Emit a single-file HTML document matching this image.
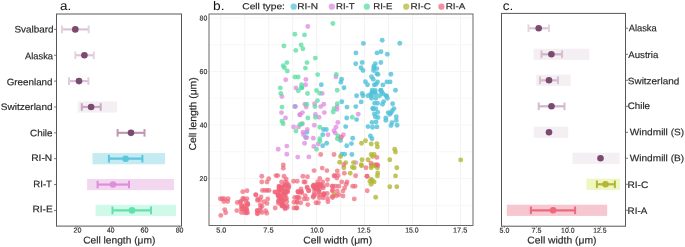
<!DOCTYPE html>
<html><head><meta charset="utf-8"><style>
html,body{margin:0;padding:0;background:#fff;}
body{width:685px;height:247px;overflow:hidden;}
svg{display:block;font-family:"Liberation Sans", sans-serif;font-kerning:none;will-change:transform;}
</style></head><body>
<svg width="685" height="247" viewBox="0 0 685 247">
<rect width="685" height="247" fill="#fff"/>
<text x="59.93" y="9.9" font-size="12.5" textLength="11.20" lengthAdjust="spacingAndGlyphs" fill="#111" stroke="#111" stroke-width="0.0" transform="rotate(0.1,59.93,9.9)">a.</text>
<line x1="62" y1="29.4" x2="88.7" y2="29.4" stroke="#dac3d5" stroke-width="2.2"/>
<line x1="62" y1="25.60" x2="62" y2="33.20" stroke="#e3d2df" stroke-width="2"/>
<line x1="88.7" y1="25.60" x2="88.7" y2="33.20" stroke="#e3d2df" stroke-width="2"/>
<circle cx="75.3" cy="29.4" r="3.3" fill="#7b4a70"/>
<text x="14.45" y="32.4" font-size="9.4" textLength="39.19" lengthAdjust="spacingAndGlyphs" fill="#2a2a2a" stroke="#2a2a2a" stroke-width="0.18" transform="rotate(0.1,14.45,32.4)">Svalbard</text>
<line x1="54" y1="29.4" x2="56.5" y2="29.4" stroke="#585858" stroke-width="0.8"/>
<line x1="75.3" y1="55.26" x2="93.8" y2="55.26" stroke="#dcc6d8" stroke-width="2.2"/>
<line x1="75.3" y1="51.46" x2="75.3" y2="59.06" stroke="#e4d3e0" stroke-width="2"/>
<line x1="93.8" y1="51.46" x2="93.8" y2="59.06" stroke="#e4d3e0" stroke-width="2"/>
<circle cx="84.4" cy="55.26" r="3.3" fill="#7b4a70"/>
<text x="24.98" y="59.3" font-size="9.4" textLength="28.02" lengthAdjust="spacingAndGlyphs" fill="#2a2a2a" stroke="#2a2a2a" stroke-width="0.18" transform="rotate(0.1,24.98,59.3)">Alaska</text>
<line x1="54" y1="55.26" x2="56.5" y2="55.26" stroke="#585858" stroke-width="0.8"/>
<line x1="69" y1="81.12" x2="88.4" y2="81.12" stroke="#d9c1d4" stroke-width="2.2"/>
<line x1="69" y1="77.32" x2="69" y2="84.92" stroke="#e0cddb" stroke-width="2"/>
<line x1="88.4" y1="77.32" x2="88.4" y2="84.92" stroke="#e0cddb" stroke-width="2"/>
<circle cx="79" cy="81.12" r="3.3" fill="#7b4a70"/>
<text x="6.71" y="85.3" font-size="9.4" textLength="45.83" lengthAdjust="spacingAndGlyphs" fill="#2a2a2a" stroke="#2a2a2a" stroke-width="0.18" transform="rotate(0.1,6.71,85.3)">Greenland</text>
<line x1="54" y1="81.12" x2="56.5" y2="81.12" stroke="#585858" stroke-width="0.8"/>
<rect x="77.7" y="101.38" width="39.30" height="11.2" fill="#f4eff3"/>
<line x1="81.8" y1="106.97999999999999" x2="100.7" y2="106.97999999999999" stroke="#c9a9c1" stroke-width="2.2"/>
<line x1="81.8" y1="103.18" x2="81.8" y2="110.78" stroke="#c9a9c1" stroke-width="2"/>
<line x1="100.7" y1="103.18" x2="100.7" y2="110.78" stroke="#c9a9c1" stroke-width="2"/>
<circle cx="91.1" cy="106.97999999999999" r="3.3" fill="#7b4a70"/>
<text x="0.85" y="110.0" font-size="9.4" textLength="51.70" lengthAdjust="spacingAndGlyphs" fill="#2a2a2a" stroke="#2a2a2a" stroke-width="0.18" transform="rotate(0.1,0.85,110.0)">Switzerland</text>
<line x1="54" y1="106.97999999999999" x2="56.5" y2="106.97999999999999" stroke="#585858" stroke-width="0.8"/>
<line x1="117.6" y1="132.84" x2="144.5" y2="132.84" stroke="#bf98b5" stroke-width="2.2"/>
<line x1="117.6" y1="129.04" x2="117.6" y2="136.64" stroke="#bf98b5" stroke-width="2"/>
<line x1="144.5" y1="129.04" x2="144.5" y2="136.64" stroke="#bf98b5" stroke-width="2"/>
<circle cx="131" cy="132.84" r="3.3" fill="#7b4a70"/>
<text x="30.10" y="136.3" font-size="9.4" textLength="22.44" lengthAdjust="spacingAndGlyphs" fill="#2a2a2a" stroke="#2a2a2a" stroke-width="0.18" transform="rotate(0.1,30.10,136.3)">Chile</text>
<line x1="54" y1="132.84" x2="56.5" y2="132.84" stroke="#585858" stroke-width="0.8"/>
<rect x="92.5" y="153.10" width="72.50" height="11.2" fill="#c4eaf2"/>
<line x1="108.9" y1="158.70000000000002" x2="142.4" y2="158.70000000000002" stroke="#5ec5dc" stroke-width="2.2"/>
<line x1="108.9" y1="154.90" x2="108.9" y2="162.50" stroke="#5ec5dc" stroke-width="2"/>
<line x1="142.4" y1="154.90" x2="142.4" y2="162.50" stroke="#5ec5dc" stroke-width="2"/>
<circle cx="125.6" cy="158.70000000000002" r="3.3" fill="#5ec5dc"/>
<text x="31.16" y="161.1" font-size="9.4" textLength="21.08" lengthAdjust="spacingAndGlyphs" fill="#2a2a2a" stroke="#2a2a2a" stroke-width="0.18" transform="rotate(0.1,31.16,161.1)">RI-N</text>
<line x1="54" y1="158.70000000000002" x2="56.5" y2="158.70000000000002" stroke="#585858" stroke-width="0.8"/>
<rect x="87.1" y="178.96" width="86.90" height="11.2" fill="#f3d6ef"/>
<line x1="97.6" y1="184.56" x2="129" y2="184.56" stroke="#e08ddc" stroke-width="2.2"/>
<line x1="97.6" y1="180.76" x2="97.6" y2="188.36" stroke="#e08ddc" stroke-width="2"/>
<line x1="129" y1="180.76" x2="129" y2="188.36" stroke="#e08ddc" stroke-width="2"/>
<circle cx="113" cy="184.56" r="3.3" fill="#e08ddc"/>
<text x="33.21" y="187.3" font-size="9.4" textLength="18.82" lengthAdjust="spacingAndGlyphs" fill="#2a2a2a" stroke="#2a2a2a" stroke-width="0.18" transform="rotate(0.1,33.21,187.3)">RI-T</text>
<line x1="54" y1="184.56" x2="56.5" y2="184.56" stroke="#585858" stroke-width="0.8"/>
<rect x="95.6" y="204.82" width="80.40" height="11.2" fill="#cffaea"/>
<line x1="112.5" y1="210.42" x2="151" y2="210.42" stroke="#64e0aa" stroke-width="2.2"/>
<line x1="112.5" y1="206.62" x2="112.5" y2="214.22" stroke="#64e0aa" stroke-width="2"/>
<line x1="151" y1="206.62" x2="151" y2="214.22" stroke="#64e0aa" stroke-width="2"/>
<circle cx="132" cy="210.42" r="3.3" fill="#64e0aa"/>
<text x="32.47" y="212.3" font-size="9.4" textLength="20.16" lengthAdjust="spacingAndGlyphs" fill="#2a2a2a" stroke="#2a2a2a" stroke-width="0.18" transform="rotate(0.1,32.47,212.3)">RI-E</text>
<line x1="54" y1="210.42" x2="56.5" y2="210.42" stroke="#585858" stroke-width="0.8"/>
<rect x="56.5" y="14" width="125" height="212.1" fill="none" stroke="#585858" stroke-width="1.0"/>
<line x1="77.2" y1="226" x2="77.2" y2="227.6" stroke="#585858" stroke-width="0.8"/>
<text x="73.64" y="232.6" font-size="7" textLength="7.94" lengthAdjust="spacingAndGlyphs" fill="#2a2a2a" stroke="#2a2a2a" stroke-width="0.15" transform="rotate(0.1,73.64,232.6)">20</text>
<line x1="111.2" y1="226" x2="111.2" y2="227.6" stroke="#585858" stroke-width="0.8"/>
<text x="107.05" y="232.6" font-size="7" textLength="7.41" lengthAdjust="spacingAndGlyphs" fill="#2a2a2a" stroke="#2a2a2a" stroke-width="0.15" transform="rotate(0.1,107.05,232.6)">40</text>
<line x1="145.3" y1="226" x2="145.3" y2="227.6" stroke="#585858" stroke-width="0.8"/>
<text x="140.54" y="232.6" font-size="7" textLength="7.94" lengthAdjust="spacingAndGlyphs" fill="#2a2a2a" stroke="#2a2a2a" stroke-width="0.15" transform="rotate(0.1,140.54,232.6)">60</text>
<line x1="179.5" y1="226" x2="179.5" y2="227.6" stroke="#585858" stroke-width="0.8"/>
<text x="175.70" y="232.6" font-size="7" textLength="7.78" lengthAdjust="spacingAndGlyphs" fill="#2a2a2a" stroke="#2a2a2a" stroke-width="0.15" transform="rotate(0.1,175.70,232.6)">80</text>
<text x="83.18" y="243.5" font-size="10.0" textLength="72.15" lengthAdjust="spacingAndGlyphs" fill="#2a2a2a" stroke="#2a2a2a" stroke-width="0.18" transform="rotate(0.1,83.18,243.5)">Cell length (μm)</text>
<text x="213.12" y="9.9" font-size="12.5" textLength="11.44" lengthAdjust="spacingAndGlyphs" fill="#111" stroke="#111" stroke-width="0.0" transform="rotate(0.1,213.12,9.9)">b.</text>
<line x1="220.80" y1="14.0" x2="220.80" y2="225.5" stroke="#f3f3f3" stroke-width="1"/>
<line x1="244.78" y1="14.0" x2="244.78" y2="225.5" stroke="#f3f3f3" stroke-width="1"/>
<line x1="268.75" y1="14.0" x2="268.75" y2="225.5" stroke="#f3f3f3" stroke-width="1"/>
<line x1="292.73" y1="14.0" x2="292.73" y2="225.5" stroke="#f3f3f3" stroke-width="1"/>
<line x1="316.70" y1="14.0" x2="316.70" y2="225.5" stroke="#f3f3f3" stroke-width="1"/>
<line x1="340.68" y1="14.0" x2="340.68" y2="225.5" stroke="#f3f3f3" stroke-width="1"/>
<line x1="364.65" y1="14.0" x2="364.65" y2="225.5" stroke="#f3f3f3" stroke-width="1"/>
<line x1="388.62" y1="14.0" x2="388.62" y2="225.5" stroke="#f3f3f3" stroke-width="1"/>
<line x1="412.60" y1="14.0" x2="412.60" y2="225.5" stroke="#f3f3f3" stroke-width="1"/>
<line x1="436.58" y1="14.0" x2="436.58" y2="225.5" stroke="#f3f3f3" stroke-width="1"/>
<line x1="460.55" y1="14.0" x2="460.55" y2="225.5" stroke="#f3f3f3" stroke-width="1"/>
<line x1="209.0" y1="205.32" x2="473.0" y2="205.32" stroke="#f7f7f7" stroke-width="1"/>
<line x1="209.0" y1="178.56" x2="473.0" y2="178.56" stroke="#f7f7f7" stroke-width="1"/>
<line x1="209.0" y1="151.80" x2="473.0" y2="151.80" stroke="#f7f7f7" stroke-width="1"/>
<line x1="209.0" y1="125.04" x2="473.0" y2="125.04" stroke="#f7f7f7" stroke-width="1"/>
<line x1="209.0" y1="98.28" x2="473.0" y2="98.28" stroke="#f7f7f7" stroke-width="1"/>
<line x1="209.0" y1="71.52" x2="473.0" y2="71.52" stroke="#f7f7f7" stroke-width="1"/>
<line x1="209.0" y1="44.76" x2="473.0" y2="44.76" stroke="#f7f7f7" stroke-width="1"/>
<line x1="209.0" y1="18.00" x2="473.0" y2="18.00" stroke="#f7f7f7" stroke-width="1"/>
<circle cx="363.4" cy="43.4" r="2.45" fill="#50c0da" fill-opacity="0.8"/>
<circle cx="382.2" cy="40.3" r="2.45" fill="#50c0da" fill-opacity="0.8"/>
<circle cx="399.8" cy="43.3" r="2.45" fill="#50c0da" fill-opacity="0.8"/>
<circle cx="355.9" cy="52.9" r="2.45" fill="#50c0da" fill-opacity="0.8"/>
<circle cx="377" cy="52.9" r="2.45" fill="#50c0da" fill-opacity="0.8"/>
<circle cx="381" cy="51.7" r="2.45" fill="#50c0da" fill-opacity="0.8"/>
<circle cx="387.3" cy="54.3" r="2.45" fill="#50c0da" fill-opacity="0.8"/>
<circle cx="355.7" cy="63.7" r="2.45" fill="#50c0da" fill-opacity="0.8"/>
<circle cx="362.2" cy="62.5" r="2.45" fill="#50c0da" fill-opacity="0.8"/>
<circle cx="361" cy="67.7" r="2.45" fill="#50c0da" fill-opacity="0.8"/>
<circle cx="363" cy="70.5" r="2.45" fill="#50c0da" fill-opacity="0.8"/>
<circle cx="375.3" cy="63.7" r="2.45" fill="#50c0da" fill-opacity="0.8"/>
<circle cx="380.8" cy="62.5" r="2.45" fill="#50c0da" fill-opacity="0.8"/>
<circle cx="373.9" cy="66.2" r="2.45" fill="#50c0da" fill-opacity="0.8"/>
<circle cx="373.9" cy="68.1" r="2.45" fill="#50c0da" fill-opacity="0.8"/>
<circle cx="376.8" cy="68.6" r="2.45" fill="#50c0da" fill-opacity="0.8"/>
<circle cx="373.5" cy="70.5" r="2.45" fill="#50c0da" fill-opacity="0.8"/>
<circle cx="376.8" cy="73.8" r="2.45" fill="#50c0da" fill-opacity="0.8"/>
<circle cx="378" cy="74.4" r="2.45" fill="#50c0da" fill-opacity="0.8"/>
<circle cx="390.9" cy="74.2" r="2.45" fill="#50c0da" fill-opacity="0.8"/>
<circle cx="371.5" cy="76.8" r="2.45" fill="#50c0da" fill-opacity="0.8"/>
<circle cx="373.2" cy="79.3" r="2.45" fill="#50c0da" fill-opacity="0.8"/>
<circle cx="365.4" cy="81.7" r="2.45" fill="#50c0da" fill-opacity="0.8"/>
<circle cx="377.5" cy="81.9" r="2.45" fill="#50c0da" fill-opacity="0.8"/>
<circle cx="386.9" cy="81.9" r="2.45" fill="#50c0da" fill-opacity="0.8"/>
<circle cx="390.1" cy="81.9" r="2.45" fill="#50c0da" fill-opacity="0.8"/>
<circle cx="341.6" cy="79.3" r="2.45" fill="#50c0da" fill-opacity="0.8"/>
<circle cx="340.8" cy="82.2" r="2.45" fill="#50c0da" fill-opacity="0.8"/>
<circle cx="344" cy="87.7" r="2.45" fill="#50c0da" fill-opacity="0.8"/>
<circle cx="321.3" cy="84.7" r="2.45" fill="#50c0da" fill-opacity="0.8"/>
<circle cx="367.5" cy="84.7" r="2.45" fill="#50c0da" fill-opacity="0.8"/>
<circle cx="362.2" cy="93.4" r="2.45" fill="#50c0da" fill-opacity="0.8"/>
<circle cx="374.3" cy="84.9" r="2.45" fill="#50c0da" fill-opacity="0.8"/>
<circle cx="376" cy="84.3" r="2.45" fill="#50c0da" fill-opacity="0.8"/>
<circle cx="382.9" cy="84.9" r="2.45" fill="#50c0da" fill-opacity="0.8"/>
<circle cx="395.5" cy="90.3" r="2.45" fill="#50c0da" fill-opacity="0.8"/>
<circle cx="363" cy="95.8" r="2.45" fill="#50c0da" fill-opacity="0.8"/>
<circle cx="372.2" cy="90.3" r="2.45" fill="#50c0da" fill-opacity="0.8"/>
<circle cx="372.2" cy="92.2" r="2.45" fill="#50c0da" fill-opacity="0.8"/>
<circle cx="374.6" cy="92.2" r="2.45" fill="#50c0da" fill-opacity="0.8"/>
<circle cx="370.7" cy="94.3" r="2.45" fill="#50c0da" fill-opacity="0.8"/>
<circle cx="375.6" cy="94" r="2.45" fill="#50c0da" fill-opacity="0.8"/>
<circle cx="367.9" cy="95.8" r="2.45" fill="#50c0da" fill-opacity="0.8"/>
<circle cx="371.5" cy="95.8" r="2.45" fill="#50c0da" fill-opacity="0.8"/>
<circle cx="380.7" cy="90.3" r="2.45" fill="#50c0da" fill-opacity="0.8"/>
<circle cx="381.9" cy="92.2" r="2.45" fill="#50c0da" fill-opacity="0.8"/>
<circle cx="383.1" cy="94" r="2.45" fill="#50c0da" fill-opacity="0.8"/>
<circle cx="379.5" cy="95.8" r="2.45" fill="#50c0da" fill-opacity="0.8"/>
<circle cx="386.1" cy="95.6" r="2.45" fill="#50c0da" fill-opacity="0.8"/>
<circle cx="387.4" cy="98.2" r="2.45" fill="#50c0da" fill-opacity="0.8"/>
<circle cx="375.8" cy="98.2" r="2.45" fill="#50c0da" fill-opacity="0.8"/>
<circle cx="371.5" cy="98.2" r="2.45" fill="#50c0da" fill-opacity="0.8"/>
<circle cx="361.2" cy="101.9" r="2.45" fill="#50c0da" fill-opacity="0.8"/>
<circle cx="374.6" cy="103.3" r="2.45" fill="#50c0da" fill-opacity="0.8"/>
<circle cx="377.6" cy="103.3" r="2.45" fill="#50c0da" fill-opacity="0.8"/>
<circle cx="383.7" cy="101.6" r="2.45" fill="#50c0da" fill-opacity="0.8"/>
<circle cx="382.5" cy="104.3" r="2.45" fill="#50c0da" fill-opacity="0.8"/>
<circle cx="392.6" cy="103.7" r="2.45" fill="#50c0da" fill-opacity="0.8"/>
<circle cx="372.8" cy="108.2" r="2.45" fill="#50c0da" fill-opacity="0.8"/>
<circle cx="375.8" cy="108.6" r="2.45" fill="#50c0da" fill-opacity="0.8"/>
<circle cx="394" cy="108.6" r="2.45" fill="#50c0da" fill-opacity="0.8"/>
<circle cx="356.6" cy="95.8" r="2.45" fill="#50c0da" fill-opacity="0.8"/>
<circle cx="355.8" cy="106.6" r="2.45" fill="#50c0da" fill-opacity="0.8"/>
<circle cx="356.6" cy="119.6" r="2.45" fill="#50c0da" fill-opacity="0.8"/>
<circle cx="375.3" cy="90.4" r="2.45" fill="#50c0da" fill-opacity="0.8"/>
<circle cx="380.9" cy="90.4" r="2.45" fill="#50c0da" fill-opacity="0.8"/>
<circle cx="386.6" cy="96.1" r="2.45" fill="#50c0da" fill-opacity="0.8"/>
<circle cx="373.2" cy="109.1" r="2.45" fill="#50c0da" fill-opacity="0.8"/>
<circle cx="392.3" cy="110.7" r="2.45" fill="#50c0da" fill-opacity="0.8"/>
<circle cx="374.4" cy="113.9" r="2.45" fill="#50c0da" fill-opacity="0.8"/>
<circle cx="377.7" cy="112.3" r="2.45" fill="#50c0da" fill-opacity="0.8"/>
<circle cx="388.2" cy="112.6" r="2.45" fill="#50c0da" fill-opacity="0.8"/>
<circle cx="389.8" cy="114.3" r="2.45" fill="#50c0da" fill-opacity="0.8"/>
<circle cx="375.3" cy="116.8" r="2.45" fill="#50c0da" fill-opacity="0.8"/>
<circle cx="378" cy="117.5" r="2.45" fill="#50c0da" fill-opacity="0.8"/>
<circle cx="385.8" cy="118" r="2.45" fill="#50c0da" fill-opacity="0.8"/>
<circle cx="396.3" cy="116.8" r="2.45" fill="#50c0da" fill-opacity="0.8"/>
<circle cx="376.1" cy="122" r="2.45" fill="#50c0da" fill-opacity="0.8"/>
<circle cx="372" cy="122.4" r="2.45" fill="#50c0da" fill-opacity="0.8"/>
<circle cx="385.8" cy="120.4" r="2.45" fill="#50c0da" fill-opacity="0.8"/>
<circle cx="396.3" cy="120.4" r="2.45" fill="#50c0da" fill-opacity="0.8"/>
<circle cx="392" cy="122.8" r="2.45" fill="#50c0da" fill-opacity="0.8"/>
<circle cx="391" cy="125.6" r="2.45" fill="#50c0da" fill-opacity="0.8"/>
<circle cx="397.1" cy="125.3" r="2.45" fill="#50c0da" fill-opacity="0.8"/>
<circle cx="368" cy="126.6" r="2.45" fill="#50c0da" fill-opacity="0.8"/>
<circle cx="372.5" cy="127.2" r="2.45" fill="#50c0da" fill-opacity="0.8"/>
<circle cx="376.9" cy="126.9" r="2.45" fill="#50c0da" fill-opacity="0.8"/>
<circle cx="391" cy="112.8" r="2.45" fill="#50c0da" fill-opacity="0.8"/>
<circle cx="341.8" cy="101.8" r="2.45" fill="#50c0da" fill-opacity="0.8"/>
<circle cx="347" cy="107.1" r="2.45" fill="#50c0da" fill-opacity="0.8"/>
<circle cx="346.7" cy="118" r="2.45" fill="#50c0da" fill-opacity="0.8"/>
<circle cx="345.7" cy="126.6" r="2.45" fill="#50c0da" fill-opacity="0.8"/>
<circle cx="323.5" cy="129.5" r="2.45" fill="#50c0da" fill-opacity="0.8"/>
<circle cx="326.3" cy="129.5" r="2.45" fill="#50c0da" fill-opacity="0.8"/>
<circle cx="306.8" cy="132.3" r="2.45" fill="#50c0da" fill-opacity="0.8"/>
<circle cx="305.7" cy="137.6" r="2.45" fill="#50c0da" fill-opacity="0.8"/>
<circle cx="322.7" cy="134.7" r="2.45" fill="#50c0da" fill-opacity="0.8"/>
<circle cx="340.5" cy="140.4" r="2.45" fill="#50c0da" fill-opacity="0.8"/>
<circle cx="352.7" cy="138.3" r="2.45" fill="#50c0da" fill-opacity="0.8"/>
<circle cx="351.5" cy="143.6" r="2.45" fill="#50c0da" fill-opacity="0.8"/>
<circle cx="346.7" cy="145.7" r="2.45" fill="#50c0da" fill-opacity="0.8"/>
<circle cx="326.7" cy="143.2" r="2.45" fill="#50c0da" fill-opacity="0.8"/>
<circle cx="322.7" cy="145.7" r="2.45" fill="#50c0da" fill-opacity="0.8"/>
<circle cx="341.8" cy="154.2" r="2.45" fill="#50c0da" fill-opacity="0.8"/>
<circle cx="344.6" cy="154.2" r="2.45" fill="#50c0da" fill-opacity="0.8"/>
<circle cx="351.9" cy="154.5" r="2.45" fill="#50c0da" fill-opacity="0.8"/>
<circle cx="370.4" cy="136" r="2.45" fill="#50c0da" fill-opacity="0.8"/>
<circle cx="372" cy="138.8" r="2.45" fill="#50c0da" fill-opacity="0.8"/>
<circle cx="301.6" cy="87.6" r="2.45" fill="#50c0da" fill-opacity="0.8"/>
<circle cx="294.8" cy="106.5" r="2.45" fill="#50c0da" fill-opacity="0.8"/>
<circle cx="307.8" cy="26.5" r="2.45" fill="#df88df" fill-opacity="0.75"/>
<circle cx="285.7" cy="79.8" r="2.45" fill="#df88df" fill-opacity="0.75"/>
<circle cx="305.9" cy="79.4" r="2.45" fill="#df88df" fill-opacity="0.75"/>
<circle cx="305.6" cy="84.8" r="2.45" fill="#df88df" fill-opacity="0.75"/>
<circle cx="295.9" cy="87.9" r="2.45" fill="#df88df" fill-opacity="0.75"/>
<circle cx="281.9" cy="96.5" r="2.45" fill="#df88df" fill-opacity="0.75"/>
<circle cx="335.9" cy="76.9" r="2.45" fill="#df88df" fill-opacity="0.75"/>
<circle cx="322.2" cy="93.4" r="2.45" fill="#df88df" fill-opacity="0.75"/>
<circle cx="358.2" cy="114.3" r="2.45" fill="#df88df" fill-opacity="0.75"/>
<circle cx="304.9" cy="104.2" r="2.45" fill="#df88df" fill-opacity="0.75"/>
<circle cx="306.2" cy="107.1" r="2.45" fill="#df88df" fill-opacity="0.75"/>
<circle cx="314.6" cy="103.7" r="2.45" fill="#df88df" fill-opacity="0.75"/>
<circle cx="320.7" cy="106.6" r="2.45" fill="#df88df" fill-opacity="0.75"/>
<circle cx="323.8" cy="104.2" r="2.45" fill="#df88df" fill-opacity="0.75"/>
<circle cx="337" cy="106.6" r="2.45" fill="#df88df" fill-opacity="0.75"/>
<circle cx="337" cy="109.4" r="2.45" fill="#df88df" fill-opacity="0.75"/>
<circle cx="302.4" cy="112.6" r="2.45" fill="#df88df" fill-opacity="0.75"/>
<circle cx="300" cy="114.7" r="2.45" fill="#df88df" fill-opacity="0.75"/>
<circle cx="324.3" cy="112.6" r="2.45" fill="#df88df" fill-opacity="0.75"/>
<circle cx="315.4" cy="114.4" r="2.45" fill="#df88df" fill-opacity="0.75"/>
<circle cx="319" cy="117.2" r="2.45" fill="#df88df" fill-opacity="0.75"/>
<circle cx="337.8" cy="122.4" r="2.45" fill="#df88df" fill-opacity="0.75"/>
<circle cx="302.4" cy="123.7" r="2.45" fill="#df88df" fill-opacity="0.75"/>
<circle cx="314.3" cy="125.3" r="2.45" fill="#df88df" fill-opacity="0.75"/>
<circle cx="336" cy="127.2" r="2.45" fill="#df88df" fill-opacity="0.75"/>
<circle cx="281.5" cy="112.6" r="2.45" fill="#df88df" fill-opacity="0.75"/>
<circle cx="285.5" cy="118" r="2.45" fill="#df88df" fill-opacity="0.75"/>
<circle cx="295.6" cy="106.6" r="2.45" fill="#df88df" fill-opacity="0.75"/>
<circle cx="299.8" cy="114.7" r="2.45" fill="#df88df" fill-opacity="0.75"/>
<circle cx="293.6" cy="126.9" r="2.45" fill="#df88df" fill-opacity="0.75"/>
<circle cx="298.5" cy="126.9" r="2.45" fill="#df88df" fill-opacity="0.75"/>
<circle cx="303" cy="132.3" r="2.45" fill="#df88df" fill-opacity="0.75"/>
<circle cx="303.7" cy="134.7" r="2.45" fill="#df88df" fill-opacity="0.75"/>
<circle cx="304.6" cy="143.3" r="2.45" fill="#df88df" fill-opacity="0.75"/>
<circle cx="286.8" cy="146.1" r="2.45" fill="#df88df" fill-opacity="0.75"/>
<circle cx="278.2" cy="149.3" r="2.45" fill="#df88df" fill-opacity="0.75"/>
<circle cx="286.8" cy="154.2" r="2.45" fill="#df88df" fill-opacity="0.75"/>
<circle cx="297.7" cy="157.1" r="2.45" fill="#df88df" fill-opacity="0.75"/>
<circle cx="307.3" cy="129.5" r="2.45" fill="#df88df" fill-opacity="0.75"/>
<circle cx="306.8" cy="137.6" r="2.45" fill="#df88df" fill-opacity="0.75"/>
<circle cx="334" cy="130.7" r="2.45" fill="#df88df" fill-opacity="0.75"/>
<circle cx="335.3" cy="133.1" r="2.45" fill="#df88df" fill-opacity="0.75"/>
<circle cx="328" cy="134.7" r="2.45" fill="#df88df" fill-opacity="0.75"/>
<circle cx="343.4" cy="134.7" r="2.45" fill="#df88df" fill-opacity="0.75"/>
<circle cx="313.3" cy="138.3" r="2.45" fill="#df88df" fill-opacity="0.75"/>
<circle cx="318.2" cy="144.1" r="2.45" fill="#df88df" fill-opacity="0.75"/>
<circle cx="313.8" cy="146.4" r="2.45" fill="#df88df" fill-opacity="0.75"/>
<circle cx="308.9" cy="156.9" r="2.45" fill="#df88df" fill-opacity="0.75"/>
<circle cx="355.9" cy="162.6" r="2.45" fill="#df88df" fill-opacity="0.75"/>
<circle cx="332.9" cy="23.5" r="2.45" fill="#55dea0" fill-opacity="0.75"/>
<circle cx="294.8" cy="34.2" r="2.45" fill="#55dea0" fill-opacity="0.75"/>
<circle cx="304.5" cy="34.9" r="2.45" fill="#55dea0" fill-opacity="0.75"/>
<circle cx="283.9" cy="46" r="2.45" fill="#55dea0" fill-opacity="0.75"/>
<circle cx="301.1" cy="45" r="2.45" fill="#55dea0" fill-opacity="0.75"/>
<circle cx="295.8" cy="50.4" r="2.45" fill="#55dea0" fill-opacity="0.75"/>
<circle cx="302.9" cy="48.8" r="2.45" fill="#55dea0" fill-opacity="0.75"/>
<circle cx="315.3" cy="58.1" r="2.45" fill="#55dea0" fill-opacity="0.75"/>
<circle cx="286.9" cy="62.6" r="2.45" fill="#55dea0" fill-opacity="0.75"/>
<circle cx="307" cy="62.6" r="2.45" fill="#55dea0" fill-opacity="0.75"/>
<circle cx="283.2" cy="65.7" r="2.45" fill="#55dea0" fill-opacity="0.75"/>
<circle cx="284.4" cy="67.8" r="2.45" fill="#55dea0" fill-opacity="0.75"/>
<circle cx="287.3" cy="71" r="2.45" fill="#55dea0" fill-opacity="0.75"/>
<circle cx="305.4" cy="68.1" r="2.45" fill="#55dea0" fill-opacity="0.75"/>
<circle cx="317.7" cy="74.6" r="2.45" fill="#55dea0" fill-opacity="0.75"/>
<circle cx="294.9" cy="77" r="2.45" fill="#55dea0" fill-opacity="0.75"/>
<circle cx="298.1" cy="77" r="2.45" fill="#55dea0" fill-opacity="0.75"/>
<circle cx="301.5" cy="84.8" r="2.45" fill="#55dea0" fill-opacity="0.75"/>
<circle cx="301.9" cy="87.9" r="2.45" fill="#55dea0" fill-opacity="0.75"/>
<circle cx="298.3" cy="90.8" r="2.45" fill="#55dea0" fill-opacity="0.75"/>
<circle cx="280.3" cy="87.9" r="2.45" fill="#55dea0" fill-opacity="0.75"/>
<circle cx="280.8" cy="93.5" r="2.45" fill="#55dea0" fill-opacity="0.75"/>
<circle cx="307.5" cy="93.5" r="2.45" fill="#55dea0" fill-opacity="0.75"/>
<circle cx="316.5" cy="90.5" r="2.45" fill="#55dea0" fill-opacity="0.75"/>
<circle cx="319.8" cy="93.2" r="2.45" fill="#55dea0" fill-opacity="0.75"/>
<circle cx="336.3" cy="74.4" r="2.45" fill="#55dea0" fill-opacity="0.75"/>
<circle cx="337.2" cy="90.2" r="2.45" fill="#55dea0" fill-opacity="0.75"/>
<circle cx="317.5" cy="100.6" r="2.45" fill="#55dea0" fill-opacity="0.75"/>
<circle cx="306.8" cy="104.2" r="2.45" fill="#55dea0" fill-opacity="0.75"/>
<circle cx="314.9" cy="106.6" r="2.45" fill="#55dea0" fill-opacity="0.75"/>
<circle cx="337.3" cy="103.7" r="2.45" fill="#55dea0" fill-opacity="0.75"/>
<circle cx="334" cy="108.7" r="2.45" fill="#55dea0" fill-opacity="0.75"/>
<circle cx="333.2" cy="112" r="2.45" fill="#55dea0" fill-opacity="0.75"/>
<circle cx="315.4" cy="117.2" r="2.45" fill="#55dea0" fill-opacity="0.75"/>
<circle cx="307.8" cy="118" r="2.45" fill="#55dea0" fill-opacity="0.75"/>
<circle cx="352.2" cy="117.2" r="2.45" fill="#55dea0" fill-opacity="0.75"/>
<circle cx="301.6" cy="124" r="2.45" fill="#55dea0" fill-opacity="0.75"/>
<circle cx="319.8" cy="127.2" r="2.45" fill="#55dea0" fill-opacity="0.75"/>
<circle cx="282" cy="107.1" r="2.45" fill="#55dea0" fill-opacity="0.75"/>
<circle cx="282" cy="121.2" r="2.45" fill="#55dea0" fill-opacity="0.75"/>
<circle cx="283.1" cy="123.7" r="2.45" fill="#55dea0" fill-opacity="0.75"/>
<circle cx="300.1" cy="124.5" r="2.45" fill="#55dea0" fill-opacity="0.75"/>
<circle cx="296" cy="131" r="2.45" fill="#55dea0" fill-opacity="0.75"/>
<circle cx="338.1" cy="136" r="2.45" fill="#55dea0" fill-opacity="0.75"/>
<circle cx="337.3" cy="138.8" r="2.45" fill="#55dea0" fill-opacity="0.75"/>
<circle cx="319.8" cy="138.8" r="2.45" fill="#55dea0" fill-opacity="0.75"/>
<circle cx="319.8" cy="141.2" r="2.45" fill="#55dea0" fill-opacity="0.75"/>
<circle cx="316.5" cy="149.3" r="2.45" fill="#55dea0" fill-opacity="0.75"/>
<circle cx="361.5" cy="143.3" r="2.45" fill="#b2b732" fill-opacity="0.8"/>
<circle cx="365.5" cy="140.7" r="2.45" fill="#b2b732" fill-opacity="0.8"/>
<circle cx="371.2" cy="144" r="2.45" fill="#b2b732" fill-opacity="0.8"/>
<circle cx="376.9" cy="143.6" r="2.45" fill="#b2b732" fill-opacity="0.8"/>
<circle cx="377.4" cy="146.9" r="2.45" fill="#b2b732" fill-opacity="0.8"/>
<circle cx="394.7" cy="149.3" r="2.45" fill="#b2b732" fill-opacity="0.8"/>
<circle cx="395.5" cy="152.1" r="2.45" fill="#b2b732" fill-opacity="0.8"/>
<circle cx="371.2" cy="154.5" r="2.45" fill="#b2b732" fill-opacity="0.8"/>
<circle cx="374.1" cy="154.5" r="2.45" fill="#b2b732" fill-opacity="0.8"/>
<circle cx="372.5" cy="156.6" r="2.45" fill="#b2b732" fill-opacity="0.8"/>
<circle cx="362" cy="159.8" r="2.45" fill="#b2b732" fill-opacity="0.8"/>
<circle cx="368" cy="159.8" r="2.45" fill="#b2b732" fill-opacity="0.8"/>
<circle cx="389.8" cy="159.8" r="2.45" fill="#b2b732" fill-opacity="0.8"/>
<circle cx="361.2" cy="164.7" r="2.45" fill="#b2b732" fill-opacity="0.8"/>
<circle cx="374.4" cy="164.7" r="2.45" fill="#b2b732" fill-opacity="0.8"/>
<circle cx="340.5" cy="156.6" r="2.45" fill="#b2b732" fill-opacity="0.8"/>
<circle cx="339.7" cy="162.3" r="2.45" fill="#b2b732" fill-opacity="0.8"/>
<circle cx="345.7" cy="162.6" r="2.45" fill="#b2b732" fill-opacity="0.8"/>
<circle cx="353.5" cy="162.6" r="2.45" fill="#b2b732" fill-opacity="0.8"/>
<circle cx="343.8" cy="167.8" r="2.45" fill="#b2b732" fill-opacity="0.8"/>
<circle cx="352.3" cy="167.3" r="2.45" fill="#b2b732" fill-opacity="0.8"/>
<circle cx="354.3" cy="167.8" r="2.45" fill="#b2b732" fill-opacity="0.8"/>
<circle cx="361.6" cy="165.7" r="2.45" fill="#b2b732" fill-opacity="0.8"/>
<circle cx="350.2" cy="173.3" r="2.45" fill="#b2b732" fill-opacity="0.8"/>
<circle cx="371.2" cy="165.7" r="2.45" fill="#b2b732" fill-opacity="0.8"/>
<circle cx="371.2" cy="167.8" r="2.45" fill="#b2b732" fill-opacity="0.8"/>
<circle cx="374.8" cy="165.7" r="2.45" fill="#b2b732" fill-opacity="0.8"/>
<circle cx="377.4" cy="167.8" r="2.45" fill="#b2b732" fill-opacity="0.8"/>
<circle cx="396.8" cy="167.8" r="2.45" fill="#b2b732" fill-opacity="0.8"/>
<circle cx="377.7" cy="173" r="2.45" fill="#b2b732" fill-opacity="0.8"/>
<circle cx="377.4" cy="175.9" r="2.45" fill="#b2b732" fill-opacity="0.8"/>
<circle cx="395.5" cy="175.9" r="2.45" fill="#b2b732" fill-opacity="0.8"/>
<circle cx="371.2" cy="179.1" r="2.45" fill="#b2b732" fill-opacity="0.8"/>
<circle cx="372.5" cy="180.7" r="2.45" fill="#b2b732" fill-opacity="0.8"/>
<circle cx="369.9" cy="181.4" r="2.45" fill="#b2b732" fill-opacity="0.8"/>
<circle cx="374.1" cy="181.9" r="2.45" fill="#b2b732" fill-opacity="0.8"/>
<circle cx="371.2" cy="184.3" r="2.45" fill="#b2b732" fill-opacity="0.8"/>
<circle cx="389.8" cy="186.7" r="2.45" fill="#b2b732" fill-opacity="0.8"/>
<circle cx="396.8" cy="186.7" r="2.45" fill="#b2b732" fill-opacity="0.8"/>
<circle cx="375.7" cy="197.3" r="2.45" fill="#b2b732" fill-opacity="0.8"/>
<circle cx="334.2" cy="194.5" r="2.45" fill="#b2b732" fill-opacity="0.8"/>
<circle cx="460.7" cy="159.9" r="2.45" fill="#b2b732" fill-opacity="0.8"/>
<circle cx="220.3" cy="198.8" r="2.45" fill="#ef6478" fill-opacity="0.7"/>
<circle cx="222.3" cy="198.8" r="2.45" fill="#ef6478" fill-opacity="0.7"/>
<circle cx="224.4" cy="198.8" r="2.45" fill="#ef6478" fill-opacity="0.7"/>
<circle cx="223.9" cy="201.5" r="2.45" fill="#ef6478" fill-opacity="0.7"/>
<circle cx="228.1" cy="198.8" r="2.45" fill="#ef6478" fill-opacity="0.7"/>
<circle cx="227.6" cy="201.5" r="2.45" fill="#ef6478" fill-opacity="0.7"/>
<circle cx="224.7" cy="209.6" r="2.45" fill="#ef6478" fill-opacity="0.7"/>
<circle cx="225.7" cy="212.8" r="2.45" fill="#ef6478" fill-opacity="0.7"/>
<circle cx="220.8" cy="215.4" r="2.45" fill="#ef6478" fill-opacity="0.7"/>
<circle cx="242.7" cy="191.8" r="2.45" fill="#ef6478" fill-opacity="0.7"/>
<circle cx="247" cy="190.7" r="2.45" fill="#ef6478" fill-opacity="0.7"/>
<circle cx="237.3" cy="202.5" r="2.45" fill="#ef6478" fill-opacity="0.7"/>
<circle cx="241" cy="201.2" r="2.45" fill="#ef6478" fill-opacity="0.7"/>
<circle cx="243.8" cy="198.8" r="2.45" fill="#ef6478" fill-opacity="0.7"/>
<circle cx="247" cy="198.8" r="2.45" fill="#ef6478" fill-opacity="0.7"/>
<circle cx="245.9" cy="201.2" r="2.45" fill="#ef6478" fill-opacity="0.7"/>
<circle cx="247.8" cy="204.1" r="2.45" fill="#ef6478" fill-opacity="0.7"/>
<circle cx="241.4" cy="206" r="2.45" fill="#ef6478" fill-opacity="0.7"/>
<circle cx="244.3" cy="205.7" r="2.45" fill="#ef6478" fill-opacity="0.7"/>
<circle cx="246.2" cy="206.8" r="2.45" fill="#ef6478" fill-opacity="0.7"/>
<circle cx="241.4" cy="209" r="2.45" fill="#ef6478" fill-opacity="0.7"/>
<circle cx="244.3" cy="209.3" r="2.45" fill="#ef6478" fill-opacity="0.7"/>
<circle cx="245.9" cy="210.6" r="2.45" fill="#ef6478" fill-opacity="0.7"/>
<circle cx="236.8" cy="210.6" r="2.45" fill="#ef6478" fill-opacity="0.7"/>
<circle cx="241.4" cy="212.5" r="2.45" fill="#ef6478" fill-opacity="0.7"/>
<circle cx="244.6" cy="212.8" r="2.45" fill="#ef6478" fill-opacity="0.7"/>
<circle cx="255.9" cy="195" r="2.45" fill="#ef6478" fill-opacity="0.7"/>
<circle cx="257.5" cy="200.4" r="2.45" fill="#ef6478" fill-opacity="0.7"/>
<circle cx="257.5" cy="210.9" r="2.45" fill="#ef6478" fill-opacity="0.7"/>
<circle cx="257.2" cy="213.8" r="2.45" fill="#ef6478" fill-opacity="0.7"/>
<circle cx="262.4" cy="190.4" r="2.45" fill="#ef6478" fill-opacity="0.7"/>
<circle cx="264.9" cy="190.4" r="2.45" fill="#ef6478" fill-opacity="0.7"/>
<circle cx="267" cy="190.4" r="2.45" fill="#ef6478" fill-opacity="0.7"/>
<circle cx="269.1" cy="190.4" r="2.45" fill="#ef6478" fill-opacity="0.7"/>
<circle cx="255.7" cy="194.6" r="2.45" fill="#ef6478" fill-opacity="0.7"/>
<circle cx="261" cy="197" r="2.45" fill="#ef6478" fill-opacity="0.7"/>
<circle cx="257.8" cy="199.1" r="2.45" fill="#ef6478" fill-opacity="0.7"/>
<circle cx="259.9" cy="199.9" r="2.45" fill="#ef6478" fill-opacity="0.7"/>
<circle cx="267.7" cy="198.9" r="2.45" fill="#ef6478" fill-opacity="0.7"/>
<circle cx="264.1" cy="201.7" r="2.45" fill="#ef6478" fill-opacity="0.7"/>
<circle cx="267" cy="203.4" r="2.45" fill="#ef6478" fill-opacity="0.7"/>
<circle cx="260.2" cy="204.8" r="2.45" fill="#ef6478" fill-opacity="0.7"/>
<circle cx="262" cy="206.2" r="2.45" fill="#ef6478" fill-opacity="0.7"/>
<circle cx="260.6" cy="207.9" r="2.45" fill="#ef6478" fill-opacity="0.7"/>
<circle cx="257.1" cy="210.5" r="2.45" fill="#ef6478" fill-opacity="0.7"/>
<circle cx="260.2" cy="210.5" r="2.45" fill="#ef6478" fill-opacity="0.7"/>
<circle cx="257.8" cy="213.3" r="2.45" fill="#ef6478" fill-opacity="0.7"/>
<circle cx="262" cy="212.6" r="2.45" fill="#ef6478" fill-opacity="0.7"/>
<circle cx="265.6" cy="210.7" r="2.45" fill="#ef6478" fill-opacity="0.7"/>
<circle cx="266.7" cy="213.3" r="2.45" fill="#ef6478" fill-opacity="0.7"/>
<circle cx="275.5" cy="192.1" r="2.45" fill="#ef6478" fill-opacity="0.7"/>
<circle cx="261.8" cy="176.3" r="2.45" fill="#ef6478" fill-opacity="0.7"/>
<circle cx="268.7" cy="178.8" r="2.45" fill="#ef6478" fill-opacity="0.7"/>
<circle cx="267" cy="182" r="2.45" fill="#ef6478" fill-opacity="0.7"/>
<circle cx="261.8" cy="182" r="2.45" fill="#ef6478" fill-opacity="0.7"/>
<circle cx="283.3" cy="165" r="2.45" fill="#ef6478" fill-opacity="0.7"/>
<circle cx="283.3" cy="168.2" r="2.45" fill="#ef6478" fill-opacity="0.7"/>
<circle cx="276" cy="175.6" r="2.45" fill="#ef6478" fill-opacity="0.7"/>
<circle cx="277.7" cy="175.6" r="2.45" fill="#ef6478" fill-opacity="0.7"/>
<circle cx="284" cy="176.3" r="2.45" fill="#ef6478" fill-opacity="0.7"/>
<circle cx="286.2" cy="179.1" r="2.45" fill="#ef6478" fill-opacity="0.7"/>
<circle cx="281.6" cy="182" r="2.45" fill="#ef6478" fill-opacity="0.7"/>
<circle cx="285.5" cy="182" r="2.45" fill="#ef6478" fill-opacity="0.7"/>
<circle cx="287.3" cy="183.4" r="2.45" fill="#ef6478" fill-opacity="0.7"/>
<circle cx="293.5" cy="181.2" r="2.45" fill="#ef6478" fill-opacity="0.7"/>
<circle cx="297.2" cy="181.2" r="2.45" fill="#ef6478" fill-opacity="0.7"/>
<circle cx="302.9" cy="176.3" r="2.45" fill="#ef6478" fill-opacity="0.7"/>
<circle cx="303.9" cy="182" r="2.45" fill="#ef6478" fill-opacity="0.7"/>
<circle cx="284.7" cy="185.2" r="2.45" fill="#ef6478" fill-opacity="0.7"/>
<circle cx="286.9" cy="186.2" r="2.45" fill="#ef6478" fill-opacity="0.7"/>
<circle cx="280.2" cy="186.9" r="2.45" fill="#ef6478" fill-opacity="0.7"/>
<circle cx="281.9" cy="188.3" r="2.45" fill="#ef6478" fill-opacity="0.7"/>
<circle cx="274.8" cy="191.9" r="2.45" fill="#ef6478" fill-opacity="0.7"/>
<circle cx="279.8" cy="190.5" r="2.45" fill="#ef6478" fill-opacity="0.7"/>
<circle cx="285" cy="190.5" r="2.45" fill="#ef6478" fill-opacity="0.7"/>
<circle cx="301" cy="189" r="2.45" fill="#ef6478" fill-opacity="0.7"/>
<circle cx="298.2" cy="191.9" r="2.45" fill="#ef6478" fill-opacity="0.7"/>
<circle cx="301.7" cy="191.9" r="2.45" fill="#ef6478" fill-opacity="0.7"/>
<circle cx="298.5" cy="192.2" r="2.45" fill="#ef6478" fill-opacity="0.7"/>
<circle cx="294.7" cy="197.5" r="2.45" fill="#ef6478" fill-opacity="0.7"/>
<circle cx="297.7" cy="197.5" r="2.45" fill="#ef6478" fill-opacity="0.7"/>
<circle cx="294" cy="202.3" r="2.45" fill="#ef6478" fill-opacity="0.7"/>
<circle cx="297" cy="202.3" r="2.45" fill="#ef6478" fill-opacity="0.7"/>
<circle cx="294" cy="208" r="2.45" fill="#ef6478" fill-opacity="0.7"/>
<circle cx="297" cy="208" r="2.45" fill="#ef6478" fill-opacity="0.7"/>
<circle cx="275.2" cy="208" r="2.45" fill="#ef6478" fill-opacity="0.7"/>
<circle cx="314.1" cy="170.6" r="2.45" fill="#ef6478" fill-opacity="0.7"/>
<circle cx="322.2" cy="168.1" r="2.45" fill="#ef6478" fill-opacity="0.7"/>
<circle cx="326.9" cy="170.6" r="2.45" fill="#ef6478" fill-opacity="0.7"/>
<circle cx="307.5" cy="176.7" r="2.45" fill="#ef6478" fill-opacity="0.7"/>
<circle cx="305.2" cy="182" r="2.45" fill="#ef6478" fill-opacity="0.7"/>
<circle cx="319.8" cy="178.4" r="2.45" fill="#ef6478" fill-opacity="0.7"/>
<circle cx="317.7" cy="182" r="2.45" fill="#ef6478" fill-opacity="0.7"/>
<circle cx="322.7" cy="182" r="2.45" fill="#ef6478" fill-opacity="0.7"/>
<circle cx="327.6" cy="179.6" r="2.45" fill="#ef6478" fill-opacity="0.7"/>
<circle cx="334" cy="175.9" r="2.45" fill="#ef6478" fill-opacity="0.7"/>
<circle cx="327.3" cy="184.8" r="2.45" fill="#ef6478" fill-opacity="0.7"/>
<circle cx="313.4" cy="186.7" r="2.45" fill="#ef6478" fill-opacity="0.7"/>
<circle cx="318.8" cy="184.8" r="2.45" fill="#ef6478" fill-opacity="0.7"/>
<circle cx="316" cy="188.4" r="2.45" fill="#ef6478" fill-opacity="0.7"/>
<circle cx="319.8" cy="189.1" r="2.45" fill="#ef6478" fill-opacity="0.7"/>
<circle cx="323.4" cy="187.7" r="2.45" fill="#ef6478" fill-opacity="0.7"/>
<circle cx="307.1" cy="187.7" r="2.45" fill="#ef6478" fill-opacity="0.7"/>
<circle cx="308.9" cy="190.5" r="2.45" fill="#ef6478" fill-opacity="0.7"/>
<circle cx="300.7" cy="191.5" r="2.45" fill="#ef6478" fill-opacity="0.7"/>
<circle cx="332.6" cy="186.2" r="2.45" fill="#ef6478" fill-opacity="0.7"/>
<circle cx="297.8" cy="191.4" r="2.45" fill="#ef6478" fill-opacity="0.7"/>
<circle cx="301.4" cy="192.8" r="2.45" fill="#ef6478" fill-opacity="0.7"/>
<circle cx="307.1" cy="187.1" r="2.45" fill="#ef6478" fill-opacity="0.7"/>
<circle cx="308.5" cy="190.7" r="2.45" fill="#ef6478" fill-opacity="0.7"/>
<circle cx="297.1" cy="197.8" r="2.45" fill="#ef6478" fill-opacity="0.7"/>
<circle cx="299.3" cy="197.8" r="2.45" fill="#ef6478" fill-opacity="0.7"/>
<circle cx="305.2" cy="195.6" r="2.45" fill="#ef6478" fill-opacity="0.7"/>
<circle cx="304.2" cy="198.9" r="2.45" fill="#ef6478" fill-opacity="0.7"/>
<circle cx="307.1" cy="198.9" r="2.45" fill="#ef6478" fill-opacity="0.7"/>
<circle cx="297.1" cy="202.3" r="2.45" fill="#ef6478" fill-opacity="0.7"/>
<circle cx="300.7" cy="202.7" r="2.45" fill="#ef6478" fill-opacity="0.7"/>
<circle cx="307.8" cy="204.6" r="2.45" fill="#ef6478" fill-opacity="0.7"/>
<circle cx="296.4" cy="208" r="2.45" fill="#ef6478" fill-opacity="0.7"/>
<circle cx="316" cy="202.7" r="2.45" fill="#ef6478" fill-opacity="0.7"/>
<circle cx="318.4" cy="202.7" r="2.45" fill="#ef6478" fill-opacity="0.7"/>
<circle cx="327.3" cy="193.5" r="2.45" fill="#ef6478" fill-opacity="0.7"/>
<circle cx="327.6" cy="198.5" r="2.45" fill="#ef6478" fill-opacity="0.7"/>
<circle cx="327.9" cy="201.7" r="2.45" fill="#ef6478" fill-opacity="0.7"/>
<circle cx="332.6" cy="190" r="2.45" fill="#ef6478" fill-opacity="0.7"/>
<circle cx="332.6" cy="197.5" r="2.45" fill="#ef6478" fill-opacity="0.7"/>
<circle cx="337.3" cy="171" r="2.45" fill="#ef6478" fill-opacity="0.7"/>
<circle cx="344.3" cy="173.3" r="2.45" fill="#ef6478" fill-opacity="0.7"/>
<circle cx="355.6" cy="175.7" r="2.45" fill="#ef6478" fill-opacity="0.7"/>
<circle cx="366.9" cy="176.2" r="2.45" fill="#ef6478" fill-opacity="0.7"/>
<circle cx="334.9" cy="175.4" r="2.45" fill="#ef6478" fill-opacity="0.7"/>
<circle cx="338.1" cy="175.4" r="2.45" fill="#ef6478" fill-opacity="0.7"/>
<circle cx="336.8" cy="178.1" r="2.45" fill="#ef6478" fill-opacity="0.7"/>
<circle cx="341.7" cy="181.9" r="2.45" fill="#ef6478" fill-opacity="0.7"/>
<circle cx="347" cy="181.9" r="2.45" fill="#ef6478" fill-opacity="0.7"/>
<circle cx="346.2" cy="184.3" r="2.45" fill="#ef6478" fill-opacity="0.7"/>
<circle cx="352.7" cy="186.2" r="2.45" fill="#ef6478" fill-opacity="0.7"/>
<circle cx="355.1" cy="186.2" r="2.45" fill="#ef6478" fill-opacity="0.7"/>
<circle cx="332.4" cy="186.2" r="2.45" fill="#ef6478" fill-opacity="0.7"/>
<circle cx="335.7" cy="186.2" r="2.45" fill="#ef6478" fill-opacity="0.7"/>
<circle cx="338.9" cy="186.2" r="2.45" fill="#ef6478" fill-opacity="0.7"/>
<circle cx="344.6" cy="187.9" r="2.45" fill="#ef6478" fill-opacity="0.7"/>
<circle cx="343" cy="191.1" r="2.45" fill="#ef6478" fill-opacity="0.7"/>
<circle cx="332.4" cy="191.1" r="2.45" fill="#ef6478" fill-opacity="0.7"/>
<circle cx="337.3" cy="191.1" r="2.45" fill="#ef6478" fill-opacity="0.7"/>
<circle cx="338.9" cy="194.8" r="2.45" fill="#ef6478" fill-opacity="0.7"/>
<circle cx="343" cy="196" r="2.45" fill="#ef6478" fill-opacity="0.7"/>
<circle cx="354.3" cy="198.9" r="2.45" fill="#ef6478" fill-opacity="0.7"/>
<circle cx="332.4" cy="196.4" r="2.45" fill="#ef6478" fill-opacity="0.7"/>
<circle cx="367.2" cy="190.8" r="2.45" fill="#ef6478" fill-opacity="0.7"/>
<circle cx="336.3" cy="195.7" r="2.45" fill="#ef6478" fill-opacity="0.7"/>
<circle cx="320.7" cy="154.5" r="2.45" fill="#ef6478" fill-opacity="0.7"/>
<circle cx="334" cy="154.5" r="2.45" fill="#ef6478" fill-opacity="0.7"/>
<circle cx="341.3" cy="137.2" r="2.45" fill="#ef6478" fill-opacity="0.7"/>
<circle cx="343.8" cy="164.7" r="2.45" fill="#ef6478" fill-opacity="0.7"/>
<circle cx="376.9" cy="157.4" r="2.45" fill="#ef6478" fill-opacity="0.7"/>
<circle cx="370.9" cy="163.1" r="2.45" fill="#ef6478" fill-opacity="0.7"/>
<circle cx="376.9" cy="164.7" r="2.45" fill="#ef6478" fill-opacity="0.7"/>
<circle cx="377.7" cy="165.2" r="2.45" fill="#ef6478" fill-opacity="0.7"/>
<circle cx="366" cy="167.8" r="2.45" fill="#ef6478" fill-opacity="0.7"/>
<circle cx="367.2" cy="176.2" r="2.45" fill="#ef6478" fill-opacity="0.7"/>
<circle cx="281.6" cy="187.8" r="2.45" fill="#ef6478" fill-opacity="0.7"/>
<circle cx="285.2" cy="185.8" r="2.45" fill="#ef6478" fill-opacity="0.7"/>
<circle cx="283.9" cy="193.1" r="2.45" fill="#ef6478" fill-opacity="0.7"/>
<circle cx="278.6" cy="196.7" r="2.45" fill="#ef6478" fill-opacity="0.7"/>
<circle cx="278.4" cy="194.8" r="2.45" fill="#ef6478" fill-opacity="0.7"/>
<circle cx="278.8" cy="186.3" r="2.45" fill="#ef6478" fill-opacity="0.7"/>
<circle cx="282.7" cy="204.7" r="2.45" fill="#ef6478" fill-opacity="0.7"/>
<circle cx="279.4" cy="189.6" r="2.45" fill="#ef6478" fill-opacity="0.7"/>
<circle cx="284.9" cy="207.7" r="2.45" fill="#ef6478" fill-opacity="0.7"/>
<circle cx="284.3" cy="193.9" r="2.45" fill="#ef6478" fill-opacity="0.7"/>
<circle cx="288.7" cy="185.2" r="2.45" fill="#ef6478" fill-opacity="0.7"/>
<circle cx="287.4" cy="191.2" r="2.45" fill="#ef6478" fill-opacity="0.7"/>
<circle cx="279.6" cy="186.9" r="2.45" fill="#ef6478" fill-opacity="0.7"/>
<circle cx="281.4" cy="204.4" r="2.45" fill="#ef6478" fill-opacity="0.7"/>
<circle cx="280.0" cy="198.5" r="2.45" fill="#ef6478" fill-opacity="0.7"/>
<circle cx="285.0" cy="193.3" r="2.45" fill="#ef6478" fill-opacity="0.7"/>
<circle cx="284.0" cy="185.6" r="2.45" fill="#ef6478" fill-opacity="0.7"/>
<circle cx="278.7" cy="189.1" r="2.45" fill="#ef6478" fill-opacity="0.7"/>
<circle cx="285.5" cy="194.7" r="2.45" fill="#ef6478" fill-opacity="0.7"/>
<circle cx="281.5" cy="198.6" r="2.45" fill="#ef6478" fill-opacity="0.7"/>
<circle cx="283.0" cy="191.5" r="2.45" fill="#ef6478" fill-opacity="0.7"/>
<circle cx="286.7" cy="201.5" r="2.45" fill="#ef6478" fill-opacity="0.7"/>
<circle cx="280.7" cy="198.4" r="2.45" fill="#ef6478" fill-opacity="0.7"/>
<circle cx="283.8" cy="205.9" r="2.45" fill="#ef6478" fill-opacity="0.7"/>
<circle cx="286.0" cy="191.2" r="2.45" fill="#ef6478" fill-opacity="0.7"/>
<circle cx="288.8" cy="187.0" r="2.45" fill="#ef6478" fill-opacity="0.7"/>
<circle cx="282.6" cy="202.9" r="2.45" fill="#ef6478" fill-opacity="0.7"/>
<circle cx="279.7" cy="196.2" r="2.45" fill="#ef6478" fill-opacity="0.7"/>
<circle cx="278.4" cy="200.7" r="2.45" fill="#ef6478" fill-opacity="0.7"/>
<circle cx="286.4" cy="198.3" r="2.45" fill="#ef6478" fill-opacity="0.7"/>
<circle cx="287.6" cy="191.8" r="2.45" fill="#ef6478" fill-opacity="0.7"/>
<circle cx="285.6" cy="198.9" r="2.45" fill="#ef6478" fill-opacity="0.7"/>
<circle cx="284.4" cy="195.4" r="2.45" fill="#ef6478" fill-opacity="0.7"/>
<circle cx="287.2" cy="207.6" r="2.45" fill="#ef6478" fill-opacity="0.7"/>
<circle cx="283.2" cy="200.6" r="2.45" fill="#ef6478" fill-opacity="0.7"/>
<circle cx="278.7" cy="201.5" r="2.45" fill="#ef6478" fill-opacity="0.7"/>
<circle cx="285.1" cy="208.8" r="2.45" fill="#ef6478" fill-opacity="0.7"/>
<circle cx="287.0" cy="191.1" r="2.45" fill="#ef6478" fill-opacity="0.7"/>
<circle cx="282.2" cy="200.7" r="2.45" fill="#ef6478" fill-opacity="0.7"/>
<circle cx="278.2" cy="195.5" r="2.45" fill="#ef6478" fill-opacity="0.7"/>
<circle cx="279.8" cy="186.9" r="2.45" fill="#ef6478" fill-opacity="0.7"/>
<circle cx="278.6" cy="203.2" r="2.45" fill="#ef6478" fill-opacity="0.7"/>
<circle cx="279.4" cy="190.2" r="2.45" fill="#ef6478" fill-opacity="0.7"/>
<circle cx="282.3" cy="205.8" r="2.45" fill="#ef6478" fill-opacity="0.7"/>
<circle cx="278.9" cy="195.2" r="2.45" fill="#ef6478" fill-opacity="0.7"/>
<circle cx="284.0" cy="206.1" r="2.45" fill="#ef6478" fill-opacity="0.7"/>
<circle cx="287.0" cy="205.6" r="2.45" fill="#ef6478" fill-opacity="0.7"/>
<circle cx="281.1" cy="194.4" r="2.45" fill="#ef6478" fill-opacity="0.7"/>
<circle cx="281.9" cy="206.1" r="2.45" fill="#ef6478" fill-opacity="0.7"/>
<circle cx="288.5" cy="187.8" r="2.45" fill="#ef6478" fill-opacity="0.7"/>
<circle cx="279.9" cy="189.8" r="2.45" fill="#ef6478" fill-opacity="0.7"/>
<circle cx="280.6" cy="196.1" r="2.45" fill="#ef6478" fill-opacity="0.7"/>
<circle cx="284.5" cy="190.6" r="2.45" fill="#ef6478" fill-opacity="0.7"/>
<circle cx="278.0" cy="194.5" r="2.45" fill="#ef6478" fill-opacity="0.7"/>
<circle cx="282.1" cy="198.2" r="2.45" fill="#ef6478" fill-opacity="0.7"/>
<circle cx="324.4" cy="193.7" r="2.45" fill="#ef6478" fill-opacity="0.7"/>
<circle cx="319.2" cy="192.6" r="2.45" fill="#ef6478" fill-opacity="0.7"/>
<circle cx="321.1" cy="184.8" r="2.45" fill="#ef6478" fill-opacity="0.7"/>
<circle cx="323.8" cy="194.9" r="2.45" fill="#ef6478" fill-opacity="0.7"/>
<circle cx="323.5" cy="195.2" r="2.45" fill="#ef6478" fill-opacity="0.7"/>
<circle cx="317.7" cy="189.6" r="2.45" fill="#ef6478" fill-opacity="0.7"/>
<circle cx="314.2" cy="192.9" r="2.45" fill="#ef6478" fill-opacity="0.7"/>
<circle cx="313.7" cy="184.9" r="2.45" fill="#ef6478" fill-opacity="0.7"/>
<circle cx="315.5" cy="186.3" r="2.45" fill="#ef6478" fill-opacity="0.7"/>
<circle cx="317.1" cy="184.7" r="2.45" fill="#ef6478" fill-opacity="0.7"/>
<circle cx="313.0" cy="186.1" r="2.45" fill="#ef6478" fill-opacity="0.7"/>
<circle cx="314.2" cy="189.1" r="2.45" fill="#ef6478" fill-opacity="0.7"/>
<circle cx="313.3" cy="196.2" r="2.45" fill="#ef6478" fill-opacity="0.7"/>
<circle cx="320.4" cy="186.1" r="2.45" fill="#ef6478" fill-opacity="0.7"/>
<circle cx="316.0" cy="188.9" r="2.45" fill="#ef6478" fill-opacity="0.7"/>
<circle cx="317.4" cy="185.7" r="2.45" fill="#ef6478" fill-opacity="0.7"/>
<circle cx="323.2" cy="197.9" r="2.45" fill="#ef6478" fill-opacity="0.7"/>
<circle cx="318.6" cy="190.8" r="2.45" fill="#ef6478" fill-opacity="0.7"/>
<circle cx="314.0" cy="185.4" r="2.45" fill="#ef6478" fill-opacity="0.7"/>
<circle cx="317.1" cy="187.7" r="2.45" fill="#ef6478" fill-opacity="0.7"/>
<circle cx="322.9" cy="186.3" r="2.45" fill="#ef6478" fill-opacity="0.7"/>
<circle cx="313.3" cy="197.3" r="2.45" fill="#ef6478" fill-opacity="0.7"/>
<circle cx="319.3" cy="186.1" r="2.45" fill="#ef6478" fill-opacity="0.7"/>
<circle cx="319.5" cy="184.4" r="2.45" fill="#ef6478" fill-opacity="0.7"/>
<circle cx="319.3" cy="197.7" r="2.45" fill="#ef6478" fill-opacity="0.7"/>
<circle cx="323.4" cy="193.7" r="2.45" fill="#ef6478" fill-opacity="0.7"/>
<circle cx="316.1" cy="189.1" r="2.45" fill="#ef6478" fill-opacity="0.7"/>
<circle cx="315.0" cy="194.8" r="2.45" fill="#ef6478" fill-opacity="0.7"/>
<circle cx="319.4" cy="194.9" r="2.45" fill="#ef6478" fill-opacity="0.7"/>
<circle cx="317.0" cy="187.1" r="2.45" fill="#ef6478" fill-opacity="0.7"/>
<circle cx="246.5" cy="212.8" r="2.45" fill="#ef6478" fill-opacity="0.7"/>
<circle cx="246.8" cy="210.1" r="2.45" fill="#ef6478" fill-opacity="0.7"/>
<circle cx="246.5" cy="209.1" r="2.45" fill="#ef6478" fill-opacity="0.7"/>
<circle cx="241.8" cy="205.8" r="2.45" fill="#ef6478" fill-opacity="0.7"/>
<circle cx="242.8" cy="198.4" r="2.45" fill="#ef6478" fill-opacity="0.7"/>
<circle cx="240.2" cy="202.2" r="2.45" fill="#ef6478" fill-opacity="0.7"/>
<circle cx="242.1" cy="208.4" r="2.45" fill="#ef6478" fill-opacity="0.7"/>
<circle cx="247.7" cy="204.7" r="2.45" fill="#ef6478" fill-opacity="0.7"/>
<circle cx="247.5" cy="212.8" r="2.45" fill="#ef6478" fill-opacity="0.7"/>
<circle cx="247.6" cy="203.5" r="2.45" fill="#ef6478" fill-opacity="0.7"/>
<rect x="209.0" y="14.0" width="264.00" height="211.50" fill="none" stroke="#585858" stroke-width="0.9"/>
<text x="216.31" y="232.6" font-size="7" textLength="10.07" lengthAdjust="spacingAndGlyphs" fill="#2a2a2a" stroke="#2a2a2a" stroke-width="0.15" transform="rotate(0.1,216.31,232.6)">5.0</text>
<text x="263.22" y="232.6" font-size="7" textLength="10.29" lengthAdjust="spacingAndGlyphs" fill="#2a2a2a" stroke="#2a2a2a" stroke-width="0.15" transform="rotate(0.1,263.22,232.6)">7.5</text>
<text x="310.18" y="232.6" font-size="7" textLength="13.39" lengthAdjust="spacingAndGlyphs" fill="#2a2a2a" stroke="#2a2a2a" stroke-width="0.15" transform="rotate(0.1,310.18,232.6)">10.0</text>
<text x="357.18" y="232.6" font-size="7" textLength="13.31" lengthAdjust="spacingAndGlyphs" fill="#2a2a2a" stroke="#2a2a2a" stroke-width="0.15" transform="rotate(0.1,357.18,232.6)">12.5</text>
<text x="405.18" y="232.6" font-size="7" textLength="13.39" lengthAdjust="spacingAndGlyphs" fill="#2a2a2a" stroke="#2a2a2a" stroke-width="0.15" transform="rotate(0.1,405.18,232.6)">15.0</text>
<text x="453.04" y="232.6" font-size="7" textLength="14.27" lengthAdjust="spacingAndGlyphs" fill="#2a2a2a" stroke="#2a2a2a" stroke-width="0.15" transform="rotate(0.1,453.04,232.6)">17.5</text>
<text x="199.55" y="181.01" font-size="7" textLength="7.72" lengthAdjust="spacingAndGlyphs" fill="#2a2a2a" stroke="#2a2a2a" stroke-width="0.15" transform="rotate(0.1,199.55,181.01)">20</text>
<text x="199.74" y="127.49" font-size="7" textLength="7.52" lengthAdjust="spacingAndGlyphs" fill="#2a2a2a" stroke="#2a2a2a" stroke-width="0.15" transform="rotate(0.1,199.74,127.49)">40</text>
<text x="199.55" y="73.97" font-size="7" textLength="7.72" lengthAdjust="spacingAndGlyphs" fill="#2a2a2a" stroke="#2a2a2a" stroke-width="0.15" transform="rotate(0.1,199.55,73.97)">60</text>
<text x="199.60" y="20.45" font-size="7" textLength="7.67" lengthAdjust="spacingAndGlyphs" fill="#2a2a2a" stroke="#2a2a2a" stroke-width="0.15" transform="rotate(0.1,199.60,20.45)">80</text>
<text x="303.28" y="243.5" font-size="10.0" textLength="68.86" lengthAdjust="spacingAndGlyphs" fill="#2a2a2a" stroke="#2a2a2a" stroke-width="0.18" transform="rotate(0.1,303.28,243.5)">Cell width (μm)</text>
<text x="-0.52" y="0" font-size="10.0" textLength="73.17" lengthAdjust="spacingAndGlyphs" fill="#2a2a2a" stroke="#2a2a2a" stroke-width="0.18" transform="translate(196.1,150) rotate(-89.9)">Cell length (μm)</text>
<text x="242.28" y="9.3" font-size="8.8" textLength="42.65" lengthAdjust="spacingAndGlyphs" fill="#2a2a2a" stroke="#2a2a2a" stroke-width="0.18" transform="rotate(0.1,242.28,9.3)">Cell type:</text>
<circle cx="293.7" cy="6.7" r="3.1" fill="#50c0da" fill-opacity="0.72"/>
<text x="297.27" y="9.3" font-size="8.8" textLength="20.75" lengthAdjust="spacingAndGlyphs" fill="#2a2a2a" stroke="#2a2a2a" stroke-width="0.18" transform="rotate(0.1,297.27,9.3)">RI-N</text>
<circle cx="331.8" cy="6.7" r="3.1" fill="#df88df" fill-opacity="0.72"/>
<text x="336.01" y="9.3" font-size="8.8" textLength="18.60" lengthAdjust="spacingAndGlyphs" fill="#2a2a2a" stroke="#2a2a2a" stroke-width="0.18" transform="rotate(0.1,336.01,9.3)">RI-T</text>
<circle cx="366.8" cy="6.7" r="3.1" fill="#55dea0" fill-opacity="0.72"/>
<text x="373.21" y="9.3" font-size="8.8" textLength="19.31" lengthAdjust="spacingAndGlyphs" fill="#2a2a2a" stroke="#2a2a2a" stroke-width="0.18" transform="rotate(0.1,373.21,9.3)">RI-E</text>
<circle cx="406.2" cy="6.7" r="3.1" fill="#b2b732" fill-opacity="0.72"/>
<text x="410.58" y="9.3" font-size="8.8" textLength="20.50" lengthAdjust="spacingAndGlyphs" fill="#2a2a2a" stroke="#2a2a2a" stroke-width="0.18" transform="rotate(0.1,410.58,9.3)">RI-C</text>
<circle cx="441.4" cy="6.7" r="3.1" fill="#ef6478" fill-opacity="0.72"/>
<text x="445.69" y="9.3" font-size="8.8" textLength="19.73" lengthAdjust="spacingAndGlyphs" fill="#2a2a2a" stroke="#2a2a2a" stroke-width="0.18" transform="rotate(0.1,445.69,9.3)">RI-A</text>
<text x="502.73" y="9.9" font-size="12.5" textLength="10.51" lengthAdjust="spacingAndGlyphs" fill="#111" stroke="#111" stroke-width="0.0" transform="rotate(0.1,502.73,9.9)">c.</text>
<line x1="528.5" y1="28.3" x2="549" y2="28.3" stroke="#dcc6d8" stroke-width="2.2"/>
<line x1="528.5" y1="24.50" x2="528.5" y2="32.10" stroke="#e4d3e0" stroke-width="2"/>
<line x1="549" y1="24.50" x2="549" y2="32.10" stroke="#e4d3e0" stroke-width="2"/>
<circle cx="538.7" cy="28.3" r="3.3" fill="#7b4a70"/>
<text x="628.68" y="31.2" font-size="9.4" textLength="28.02" lengthAdjust="spacingAndGlyphs" fill="#2a2a2a" stroke="#2a2a2a" stroke-width="0.18" transform="rotate(0.1,628.68,31.2)">Alaska</text>
<line x1="625.5" y1="28.3" x2="628" y2="28.3" stroke="#585858" stroke-width="0.8"/>
<rect x="533.6" y="48.70" width="55.70" height="11.2" fill="#f4eff3"/>
<line x1="541.5" y1="54.3" x2="562.1" y2="54.3" stroke="#cfb3c8" stroke-width="2.2"/>
<line x1="541.5" y1="50.50" x2="541.5" y2="58.10" stroke="#d6bdd0" stroke-width="2"/>
<line x1="562.1" y1="50.50" x2="562.1" y2="58.10" stroke="#d6bdd0" stroke-width="2"/>
<circle cx="551.4" cy="54.3" r="3.3" fill="#7b4a70"/>
<text x="628.28" y="58.0" font-size="9.4" textLength="30.02" lengthAdjust="spacingAndGlyphs" fill="#2a2a2a" stroke="#2a2a2a" stroke-width="0.18" transform="rotate(0.1,628.28,58.0)">Austria</text>
<line x1="625.5" y1="54.3" x2="628" y2="54.3" stroke="#585858" stroke-width="0.8"/>
<rect x="536.2" y="74.70" width="34.50" height="11.2" fill="#f4eff3"/>
<line x1="540" y1="80.3" x2="558" y2="80.3" stroke="#d4bacd" stroke-width="2.2"/>
<line x1="540" y1="76.50" x2="540" y2="84.10" stroke="#d8c0d2" stroke-width="2"/>
<line x1="558" y1="76.50" x2="558" y2="84.10" stroke="#d8c0d2" stroke-width="2"/>
<circle cx="549" cy="80.3" r="3.3" fill="#7b4a70"/>
<text x="627.85" y="84.3" font-size="9.4" textLength="51.39" lengthAdjust="spacingAndGlyphs" fill="#2a2a2a" stroke="#2a2a2a" stroke-width="0.18" transform="rotate(0.1,627.85,84.3)">Switzerland</text>
<line x1="625.5" y1="80.3" x2="628" y2="80.3" stroke="#585858" stroke-width="0.8"/>
<line x1="538.7" y1="106.3" x2="564.5" y2="106.3" stroke="#d0b5ca" stroke-width="2.2"/>
<line x1="538.7" y1="102.50" x2="538.7" y2="110.10" stroke="#d4bbcd" stroke-width="2"/>
<line x1="564.5" y1="102.50" x2="564.5" y2="110.10" stroke="#d4bbcd" stroke-width="2"/>
<circle cx="551.5" cy="106.3" r="3.3" fill="#7b4a70"/>
<text x="627.80" y="109.0" font-size="9.4" textLength="22.23" lengthAdjust="spacingAndGlyphs" fill="#2a2a2a" stroke="#2a2a2a" stroke-width="0.18" transform="rotate(0.1,627.80,109.0)">Chile</text>
<line x1="625.5" y1="106.3" x2="628" y2="106.3" stroke="#585858" stroke-width="0.8"/>
<rect x="533.7" y="126.70" width="34.50" height="11.2" fill="#f4eff3"/>
<circle cx="549" cy="132.3" r="3.3" fill="#7b4a70"/>
<text x="629.76" y="135.2" font-size="9.4" textLength="54.37" lengthAdjust="spacingAndGlyphs" fill="#2a2a2a" stroke="#2a2a2a" stroke-width="0.18" transform="rotate(0.1,629.76,135.2)">Windmill (S)</text>
<line x1="625.5" y1="132.3" x2="628" y2="132.3" stroke="#585858" stroke-width="0.8"/>
<rect x="572.5" y="152.70" width="47.20" height="11.2" fill="#f4eff3"/>
<circle cx="600.5" cy="158.3" r="3.3" fill="#7b4a70"/>
<text x="629.76" y="161.2" font-size="9.4" textLength="54.37" lengthAdjust="spacingAndGlyphs" fill="#2a2a2a" stroke="#2a2a2a" stroke-width="0.18" transform="rotate(0.1,629.76,161.2)">Windmill (B)</text>
<line x1="625.5" y1="158.3" x2="628" y2="158.3" stroke="#585858" stroke-width="0.8"/>
<rect x="586.4" y="178.70" width="33.60" height="11.2" fill="#eef7c0"/>
<line x1="596.9" y1="184.3" x2="614.9" y2="184.3" stroke="#b3b636" stroke-width="2.2"/>
<line x1="596.9" y1="180.50" x2="596.9" y2="188.10" stroke="#b3b636" stroke-width="2"/>
<line x1="614.9" y1="180.50" x2="614.9" y2="188.10" stroke="#b3b636" stroke-width="2"/>
<circle cx="605.5" cy="184.3" r="3.3" fill="#b3b636"/>
<text x="627.47" y="188.0" font-size="9.4" textLength="20.82" lengthAdjust="spacingAndGlyphs" fill="#2a2a2a" stroke="#2a2a2a" stroke-width="0.18" transform="rotate(0.1,627.47,188.0)">RI-C</text>
<line x1="625.5" y1="184.3" x2="628" y2="184.3" stroke="#585858" stroke-width="0.8"/>
<rect x="506.8" y="204.70" width="100.40" height="11.2" fill="#f6c7d0"/>
<line x1="530.9" y1="210.3" x2="575.1" y2="210.3" stroke="#ec6a7c" stroke-width="2.2"/>
<line x1="530.9" y1="206.50" x2="530.9" y2="214.10" stroke="#ec6a7c" stroke-width="2"/>
<line x1="575.1" y1="206.50" x2="575.1" y2="214.10" stroke="#ec6a7c" stroke-width="2"/>
<circle cx="553.1" cy="210.3" r="3.3" fill="#ec6a7c"/>
<text x="627.60" y="214.1" font-size="9.4" textLength="19.62" lengthAdjust="spacingAndGlyphs" fill="#2a2a2a" stroke="#2a2a2a" stroke-width="0.18" transform="rotate(0.1,627.60,214.1)">RI-A</text>
<line x1="625.5" y1="210.3" x2="628" y2="210.3" stroke="#585858" stroke-width="0.8"/>
<rect x="501.5" y="13.4" width="124.0" height="212.80" fill="none" stroke="#585858" stroke-width="1.0"/>
<line x1="504.3" y1="226.2" x2="504.3" y2="227.79999999999998" stroke="#585858" stroke-width="0.8"/>
<text x="499.62" y="232.8" font-size="7" textLength="9.76" lengthAdjust="spacingAndGlyphs" fill="#2a2a2a" stroke="#2a2a2a" stroke-width="0.15" transform="rotate(0.1,499.62,232.8)">5.0</text>
<line x1="536.4" y1="226.2" x2="536.4" y2="227.79999999999998" stroke="#585858" stroke-width="0.8"/>
<text x="531.64" y="232.8" font-size="7" textLength="9.86" lengthAdjust="spacingAndGlyphs" fill="#2a2a2a" stroke="#2a2a2a" stroke-width="0.15" transform="rotate(0.1,531.64,232.8)">7.5</text>
<line x1="568.3" y1="226.2" x2="568.3" y2="227.79999999999998" stroke="#585858" stroke-width="0.8"/>
<text x="561.08" y="232.8" font-size="7" textLength="13.39" lengthAdjust="spacingAndGlyphs" fill="#2a2a2a" stroke="#2a2a2a" stroke-width="0.15" transform="rotate(0.1,561.08,232.8)">10.0</text>
<line x1="600.5" y1="226.2" x2="600.5" y2="227.79999999999998" stroke="#585858" stroke-width="0.8"/>
<text x="593.29" y="232.8" font-size="7" textLength="13.10" lengthAdjust="spacingAndGlyphs" fill="#2a2a2a" stroke="#2a2a2a" stroke-width="0.15" transform="rotate(0.1,593.29,232.8)">12.5</text>
<text x="527.37" y="243.5" font-size="10.0" textLength="69.17" lengthAdjust="spacingAndGlyphs" fill="#2a2a2a" stroke="#2a2a2a" stroke-width="0.18" transform="rotate(0.1,527.37,243.5)">Cell width (μm)</text>
</svg>
</body></html>
